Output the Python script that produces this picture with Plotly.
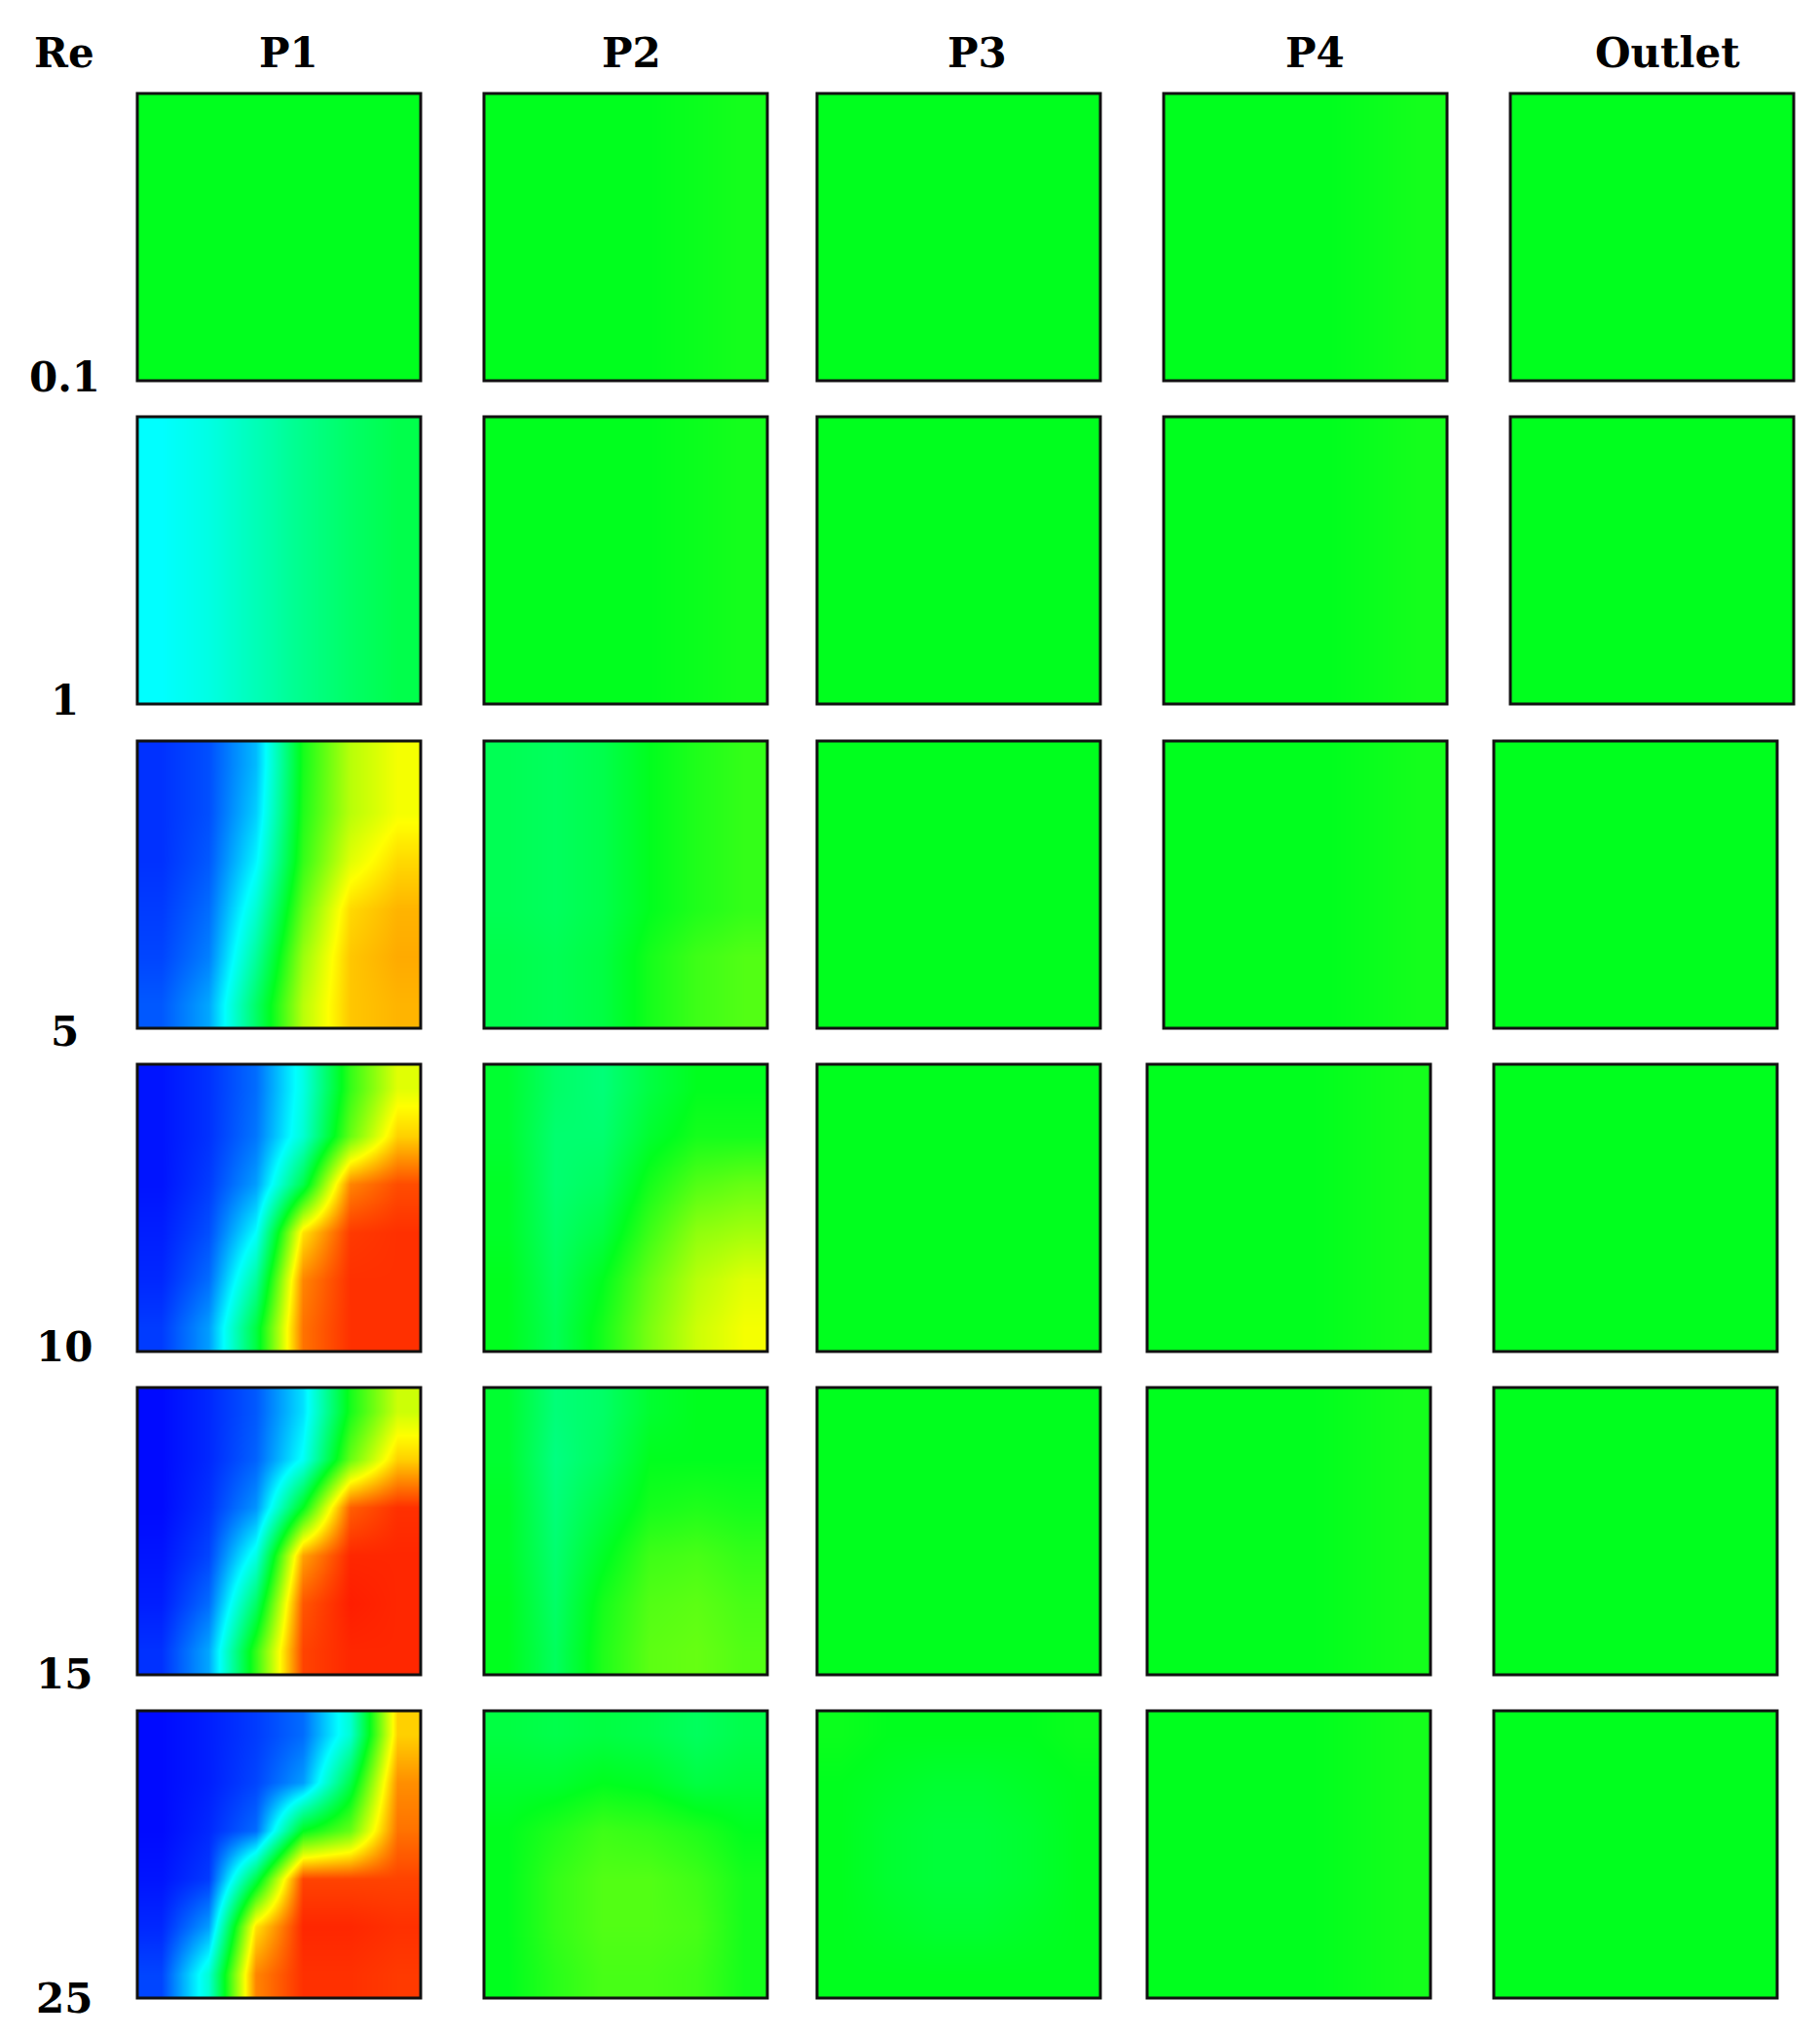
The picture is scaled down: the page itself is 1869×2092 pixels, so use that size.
import plotly.graph_objects as go

W, H = 1869, 2092
re_labels = ["0.1", "1", "5", "10", "15", "25"]
col_labels = ["P1", "P2", "P3", "P4", "Outlet"]

G = 0.5
flat = [[G, G, G, G, G, G]] * 6
flat2 = [[0.5, 0.5, 0.5, 0.5, 0.51, 0.52]] * 6

p1_re1 = [[0.25, 0.28, 0.33, 0.38, 0.42, 0.45]] * 6
p1_re5 = [[0.04, 0.07, 0.18, 0.52, 0.68, 0.74],
          [0.04, 0.07, 0.2, 0.53, 0.68, 0.74],
          [0.04, 0.08, 0.24, 0.55, 0.72, 0.79],
          [0.05, 0.1, 0.3, 0.6, 0.79, 0.83],
          [0.06, 0.12, 0.36, 0.65, 0.81, 0.84],
          [0.08, 0.16, 0.42, 0.68, 0.81, 0.83]]
p1_re10 = [[0.01, 0.04, 0.1, 0.28, 0.55, 0.72],
           [0.01, 0.04, 0.11, 0.3, 0.6, 0.8],
           [0.01, 0.05, 0.15, 0.45, 0.88, 0.94],
           [0.02, 0.07, 0.25, 0.78, 0.96, 0.97],
           [0.03, 0.1, 0.36, 0.88, 0.97, 0.97],
           [0.05, 0.15, 0.46, 0.9, 0.97, 0.97]]
p1_re15 = [[0.0, 0.03, 0.08, 0.22, 0.52, 0.7],
           [0.0, 0.03, 0.09, 0.26, 0.6, 0.8],
           [0.0, 0.04, 0.14, 0.5, 0.92, 0.97],
           [0.01, 0.06, 0.28, 0.85, 0.98, 0.98],
           [0.02, 0.1, 0.42, 0.93, 0.99, 0.98],
           [0.04, 0.16, 0.55, 0.95, 0.98, 0.98]]
p1_re25 = [[0.0, 0.02, 0.05, 0.1, 0.3, 0.8],
           [0.0, 0.02, 0.06, 0.15, 0.45, 0.87],
           [0.0, 0.03, 0.1, 0.5, 0.6, 0.9],
           [0.01, 0.05, 0.45, 0.95, 0.95, 0.95],
           [0.03, 0.15, 0.78, 0.98, 0.98, 0.97],
           [0.06, 0.3, 0.88, 0.97, 0.97, 0.96]]

p2_re5 = [[0.44, 0.43, 0.45, 0.5, 0.53, 0.55]] * 4 + [[0.45, 0.44, 0.46, 0.52, 0.56, 0.58]] * 2
p2_re10 = [[0.48, 0.42, 0.4, 0.46, 0.5, 0.5],
           [0.48, 0.41, 0.41, 0.48, 0.52, 0.52],
           [0.49, 0.41, 0.43, 0.52, 0.58, 0.6],
           [0.49, 0.42, 0.46, 0.56, 0.64, 0.66],
           [0.5, 0.43, 0.5, 0.6, 0.68, 0.72],
           [0.5, 0.44, 0.52, 0.62, 0.7, 0.74]]
p2_re15 = [[0.48, 0.4, 0.42, 0.48, 0.5, 0.5],
           [0.48, 0.39, 0.43, 0.5, 0.5, 0.5],
           [0.49, 0.4, 0.46, 0.52, 0.53, 0.52],
           [0.49, 0.41, 0.49, 0.56, 0.57, 0.55],
           [0.5, 0.42, 0.52, 0.58, 0.59, 0.57],
           [0.5, 0.43, 0.53, 0.59, 0.6, 0.58]]
p2_re25 = [[0.46, 0.45, 0.46, 0.45, 0.43, 0.45],
           [0.48, 0.48, 0.5, 0.49, 0.46, 0.47],
           [0.5, 0.53, 0.56, 0.55, 0.53, 0.5],
           [0.5, 0.55, 0.58, 0.58, 0.56, 0.52],
           [0.5, 0.55, 0.58, 0.58, 0.57, 0.52],
           [0.5, 0.54, 0.57, 0.57, 0.56, 0.52]]
p3_re25 = [[0.51, 0.5, 0.5, 0.5, 0.5, 0.51],
           [0.5, 0.49, 0.48, 0.48, 0.49, 0.5],
           [0.5, 0.48, 0.47, 0.47, 0.48, 0.5],
           [0.5, 0.48, 0.47, 0.47, 0.48, 0.5],
           [0.5, 0.49, 0.48, 0.48, 0.49, 0.5],
           [0.5, 0.5, 0.5, 0.5, 0.5, 0.5]]

fields = [
    [flat, flat2, flat, flat2, flat],
    [p1_re1, flat2, flat, flat2, flat],
    [p1_re5, p2_re5, flat, flat2, flat],
    [p1_re10, p2_re10, flat, flat2, flat],
    [p1_re15, p2_re15, flat, flat2, flat],
    [p1_re25, p2_re25, p3_re25, flat2, flat],
]

row_y = [88, 420, 753, 1085, 1417, 1749]
ph, pw = 295, 291
col_x = [
    [133, 489, 831, 1187, 1543],
    [133, 489, 831, 1187, 1543],
    [133, 489, 831, 1187, 1526],
    [133, 489, 831, 1170, 1526],
    [133, 489, 831, 1170, 1526],
    [133, 489, 831, 1170, 1526],
]

cscale = [[0, "rgb(0,10,255)"], [0.25, "rgb(0,255,255)"], [0.5, "rgb(0,255,30)"],
          [0.75, "rgb(255,255,0)"], [1.0, "rgb(255,20,0)"]]

fig = go.Figure()
layout = dict(width=W, height=H, margin=dict(l=0, r=0, t=0, b=0),
              paper_bgcolor="white", plot_bgcolor="white", showlegend=False)
shapes, ann = [], []
k = 0
for r in range(6):
    for c in range(5):
        k += 1
        xa = "x" if k == 1 else f"x{k}"
        ya = "y" if k == 1 else f"y{k}"
        x0 = col_x[r][c]
        y0 = row_y[r]
        fig.add_trace(go.Heatmap(z=fields[r][c], colorscale=cscale, zmin=0, zmax=1,
                                 zsmooth="best", showscale=False, xaxis=xa, yaxis=ya,
                                 hoverinfo="skip"))
        layout["xaxis" if k == 1 else f"xaxis{k}"] = dict(
            domain=[x0 / W, (x0 + pw) / W], visible=False, anchor=ya)
        layout["yaxis" if k == 1 else f"yaxis{k}"] = dict(
            domain=[1 - (y0 + ph) / H, 1 - y0 / H], visible=False, anchor=xa,
            autorange="reversed")
        shapes.append(dict(type="rect", xref="paper", yref="paper",
                           x0=x0 / W, x1=(x0 + pw) / W,
                           y0=1 - (y0 + ph) / H, y1=1 - y0 / H,
                           line=dict(color="#111", width=3)))

font = dict(family="DejaVu Serif", size=42, color="black")
hdr_x = [58, 288, 640, 995, 1342, 1704]
for lbl, x in zip(["Re"] + col_labels, hdr_x):
    ann.append(dict(text=f"<b>{lbl}</b>", x=x / W, y=1 - 46 / H, xref="paper", yref="paper",
                    showarrow=False, font=font, xanchor="center", yanchor="middle"))
row_lbl_y = [380, 711, 1051, 1375, 1711, 2044]
for lbl, y in zip(re_labels, row_lbl_y):
    ann.append(dict(text=f"<b>{lbl}</b>", x=58 / W, y=1 - y / H, xref="paper", yref="paper",
                    showarrow=False, font=font, xanchor="center", yanchor="middle"))

layout["shapes"] = shapes
layout["annotations"] = ann
fig.update_layout(**layout)
fig.write_html("out.html")
